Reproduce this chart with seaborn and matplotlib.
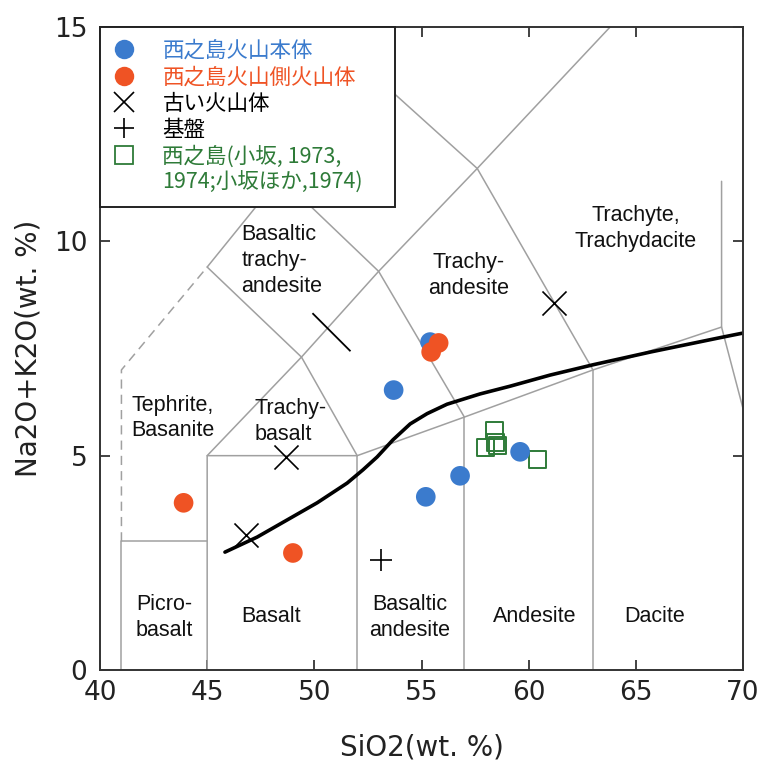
import numpy as np
import pandas as pd
import matplotlib
matplotlib.use('Agg')
import matplotlib.pyplot as plt
from matplotlib.lines import Line2D
from matplotlib.path import Path
import seaborn as sns

#%%% data (SiO2, Na2O+K2O in wt.%)
# Nishinoshima main edifice (blue)
main_sio2 = [55.4, 53.7, 59.6, 56.8, 55.2]
main_alk = [7.65, 6.53, 5.09, 4.53, 4.04]
# flank volcanoes (red)
flank_sio2 = [55.8, 55.45, 43.9, 49.0]
flank_alk = [7.63, 7.42, 3.90, 2.73]
# old volcanic bodies (x)
old_sio2 = [46.8, 48.7, 61.2]
old_alk = [3.15, 4.97, 8.56]
# the odd single stroke mark in the original
odd_sio2 = [50.8]
odd_alk = [7.88]
# basement (+)
base_sio2 = [53.1]
base_alk = [2.57]
# Kosaka (1973, 1974) open squares
kos_sio2 = [58.39, 57.97, 58.43, 58.53, 60.39]
kos_alk = [5.58, 5.20, 5.30, 5.23, 4.90]

# alkaline / subalkaline dividing curve
curve_sio2 = [45.83, 47.33, 48.73, 50.13, 51.53, 52.27, 52.93, 53.67, 54.47, 55.26,
              56.19, 57.73, 59.13, 61.0, 63.0, 65.7, 69.0, 70.0]
curve_alk = [2.75, 3.10, 3.50, 3.90, 4.36, 4.67, 4.97, 5.37, 5.74, 5.98,
             6.20, 6.44, 6.62, 6.88, 7.12, 7.42, 7.76, 7.86]

# TAS field boundaries (Le Bas et al., 1986)
tas_lines = [
    [(41, 0), (41, 3), (45, 3)],
    [(45, 0), (45, 5), (49.4, 7.3), (52, 5)],
    [(45, 5), (52, 5), (57, 5.9), (63, 7), (69, 8)],
    [(52, 0), (52, 5)],
    [(57, 0), (57, 5.9)],
    [(63, 0), (63, 7)],
    [(69, 11.4), (69, 8), (70, 6.1)],
    [(45, 9.4), (49.4, 7.3)],
    [(45, 9.4), (48.4, 11.5), (52.5, 14)],
    [(49.4, 7.3), (53, 9.3), (57.6, 11.7), (63.8, 15)],
    [(48.4, 11.5), (53, 9.3), (57, 5.9)],
    [(52.5, 14), (57.6, 11.7), (63, 7)],
]
tas_dashed = [(41, 3), (41, 7), (45, 9.4)]

field_names = ['Trachyte,\nTrachydacite', 'Trachy-\nandesite', 'Basaltic\ntrachy-\nandesite',
               'Tephrite,\nBasanite', 'Trachy-\nbasalt', 'Picro-\nbasalt', 'Basalt',
               'Basaltic\nandesite', 'Andesite', 'Dacite']
field_x = [65.0, 57.2, 46.6, 41.45, 47.2, 43.0, 48.0, 54.45, 60.3, 65.9]
field_y = [10.3, 9.2, 9.55, 5.88, 5.8, 1.22, 1.24, 1.22, 1.24, 1.24]
field_ha = ['center', 'center', 'left', 'left', 'left', 'center', 'center', 'center', 'center', 'center']

legend_labels = ['西之島火山本体', '西之島火山側火山体', '古い火山体', '基盤',
                 '西之島(小坂, 1973,', '1974;小坂ほか,1974)']

blue = '#3b7bcd'
red = '#ef5324'
green = '#2e7b38'
gray = '#a0a0a0'

#%%% plot
sns.set_theme(style='ticks')
plt.rcParams['font.family'] = ['DejaVu Sans']

fig = plt.figure(figsize=(7.62, 7.63), dpi=100)
ax = fig.add_axes([100/762, 1-670/763, 643/762, 643/763])

for seg in tas_lines:
    xs, ys = zip(*seg)
    ax.plot(xs, ys, color=gray, lw=1.1, zorder=1)
xs, ys = zip(*tas_dashed)
ax.plot(xs, ys, color=gray, lw=1.1, ls=(0, (6, 4)), zorder=1)

curve = pd.DataFrame({'sio2': curve_sio2, 'alk': curve_alk})
sns.lineplot(data=curve, x='sio2', y='alk', color='black', lw=2.6, sort=False, ax=ax, zorder=2)

sns.scatterplot(x=main_sio2, y=main_alk, color=blue, s=200, edgecolor='none', ax=ax, zorder=4)
sns.scatterplot(x=flank_sio2, y=flank_alk, color=red, s=200, edgecolor='none', ax=ax, zorder=5)
sns.scatterplot(x=kos_sio2, y=kos_alk, marker='s', s=150, facecolor='none', edgecolor=green,
                linewidth=1.4, ax=ax, zorder=3)
sns.scatterplot(x=old_sio2, y=old_alk, marker='x', s=300, color='black', linewidth=1.2, ax=ax, zorder=3)
sns.scatterplot(x=base_sio2, y=base_alk, marker='+', s=230, color='black', linewidth=1.2, ax=ax, zorder=3)
stroke = Path([(-1, 1), (1, -1)], [Path.MOVETO, Path.LINETO])
sns.scatterplot(x=odd_sio2, y=odd_alk, marker=stroke, s=750, facecolor='none', edgecolor='black',
                linewidth=1.3, ax=ax, zorder=3)

for name, x, y, ha in zip(field_names, field_x, field_y, field_ha):
    ax.text(x, y, name, ha=ha, va='center', fontsize=15.5, linespacing=1.3,
            family='Liberation Sans', color='#111111', zorder=6)

ax.set_xlim(40, 70)
ax.set_ylim(0, 15)
ax.set_xticks([40, 45, 50, 55, 60, 65, 70])
ax.set_yticks([0, 5, 10, 15])
ax.tick_params(direction='in', length=7, width=1.2, colors='#222222', labelsize=19,
               top=True, right=True, labelcolor='#222222')
ax.tick_params(axis='x', pad=7)
ax.tick_params(axis='y', pad=9)
for sp in ax.spines.values():
    sp.set_linewidth(1.4)
    sp.set_color('#333333')
ax.set_xlabel('SiO2(wt. %)', fontsize=20, labelpad=20, color='#222222')
ax.set_ylabel('Na2O+K2O(wt. %)', fontsize=20, labelpad=8, color='#222222')

handles = [
    Line2D([], [], ls='none', marker='o', ms=14, color=blue, mec='none'),
    Line2D([], [], ls='none', marker='o', ms=14, color=red, mec='none'),
    Line2D([], [], ls='none', marker='x', ms=15, color='black', mew=1.2),
    Line2D([], [], ls='none', marker='+', ms=15, color='black', mew=1.2),
    Line2D([], [], ls='none', marker='s', ms=13, mfc='none', mec=green, mew=1.3),
    Line2D([], [], ls='none', marker=None),
]
leg = ax.legend(handles, legend_labels, loc='upper left', bbox_to_anchor=(0, 1, 295/643, 0),
                mode='expand', borderaxespad=0, frameon=True, fancybox=False, framealpha=1,
                edgecolor='#222222', borderpad=0.6, handlelength=1.0,
                handletextpad=1.3, labelspacing=0.2,
                prop={'family': ['Noto Sans CJK JP', 'DejaVu Sans'], 'size': 15.5})
leg.get_frame().set_linewidth(1.4)
leg.set_zorder(10)
for txt, c in zip(leg.get_texts(), [blue, red, 'black', 'black', green, green]):
    txt.set_color(c)

fig.savefig('out.png', dpi=100)
